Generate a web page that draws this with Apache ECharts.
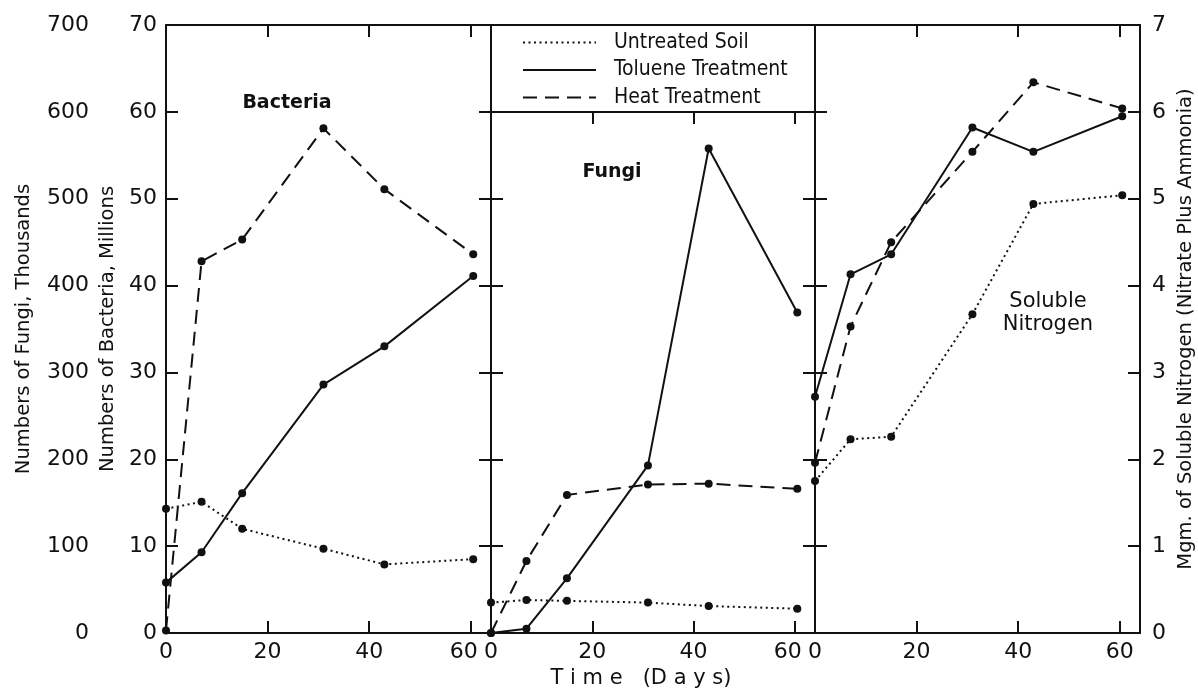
<!DOCTYPE html>
<html>
<head>
<meta charset="utf-8">
<script src="https://cdn.jsdelivr.net/npm/echarts@6/dist/echarts.min.js"></script>
<style>
  html, body { margin: 0; padding: 0; background: #fff; }
  #chart { width: 1198px; height: 689px; }
</style>
</head>
<body>
<div id="chart"></div>
<script>
// days of sampling (x)
var days = [0, 7, 15, 31, 43, 60.5];

// bacteria, millions
var bacteriaUntreated = [14.3, 15.1, 12.0, 9.7, 7.9, 8.5];
var bacteriaToluene   = [5.8, 9.3, 16.1, 28.6, 33.0, 41.1];
var bacteriaHeat      = [0.3, 42.8, 45.3, 58.1, 51.1, 43.6];

// fungi, thousands
var fungiUntreated = [35, 38, 37, 35, 31, 28];
var fungiToluene   = [0, 5, 63, 193, 558, 369];
var fungiHeat      = [0, 83, 159, 171, 172, 166];

// soluble nitrogen, mgm.
var nitrogenUntreated = [1.75, 2.23, 2.26, 3.67, 4.94, 5.04];
var nitrogenToluene   = [2.72, 4.13, 4.36, 5.82, 5.54, 5.95];
var nitrogenHeat      = [1.96, 3.53, 4.50, 5.54, 6.34, 6.04];

var treatments = ['Untreated Soil', 'Toluene Treatment', 'Heat Treatment'];
var dashes = [[2, 3.5], 'solid', [14, 8]];

var FONT = 'DejaVu Sans';
var black = '#111';

function pairs(vals) {
  return vals.map(function (v, i) { return [days[i], v]; });
}

// "60" of the first two panels sits a bit left so it doesn't touch the next "0"
function shiftedSixty(v) { return v === 60 ? '60  ' : String(v); }

// x axes: bottom with labels, top with ticks only
function xAx(grid, pos, labels, extra) {
  var a = {
    type: 'value', gridIndex: grid, position: pos, min: 0, max: 64, interval: 20,
    axisLine: { show: true, onZero: false, lineStyle: { color: black, width: 2 } },
    axisTick: { show: true, inside: true, length: 12, lineStyle: { color: black, width: 2 } },
    axisLabel: { show: labels, showMaxLabel: false, margin: 8, color: black, fontFamily: FONT, fontSize: 22,
                 formatter: grid < 2 ? shiftedSixty : null },
    splitLine: { show: false }
  };
  return Object.assign(a, extra || {});
}

function yAx(grid, pos, max, interval, labels, extra) {
  var a = {
    type: 'value', gridIndex: grid, position: pos, min: 0, max: max, interval: interval,
    axisLine: { show: true, onZero: false, lineStyle: { color: black, width: 2 } },
    axisTick: { show: true, inside: true, length: 12, lineStyle: { color: black, width: 2 } },
    axisLabel: { show: labels, margin: 9, color: black, fontFamily: FONT, fontSize: 22 },
    splitLine: { show: false },
    nameTextStyle: { color: black, fontFamily: FONT, fontSize: 19.5 }
  };
  return Object.assign(a, extra || {});
}

var series = [];
function addPanel(xi, yi, sets) {
  sets.forEach(function (vals, k) {
    series.push({
      name: treatments[k], type: 'line', xAxisIndex: xi, yAxisIndex: yi,
      data: pairs(vals), symbol: 'circle', symbolSize: 8,
      itemStyle: { color: black },
      lineStyle: { color: black, width: 2, type: dashes[k] }
    });
  });
}
addPanel(0, 0, [bacteriaUntreated, bacteriaToluene, bacteriaHeat]);
addPanel(2, 3, [fungiUntreated, fungiToluene, fungiHeat]);
addPanel(4, 6, [nitrogenUntreated, nitrogenToluene, nitrogenHeat]);

var chart = echarts.init(document.getElementById('chart'));
chart.setOption({
  animation: false,
  backgroundColor: '#fff',
  grid: [
    { left: 166, top: 25, width: 325, height: 608, outerBoundsMode: 'none' },
    { left: 491, top: 112, width: 324, height: 521, outerBoundsMode: 'none' },
    { left: 815, top: 25, width: 325, height: 608, outerBoundsMode: 'none' },
    // legend box
    { left: 491, top: 25, width: 324, height: 87, outerBoundsMode: 'none', show: true, borderColor: black, borderWidth: 2, backgroundColor: 'transparent' }
  ],
  xAxis: [
    xAx(0, 'bottom', true),
    xAx(0, 'top', false),
    xAx(1, 'bottom', true, {
      name: 'T i m e   (D a y s)', nameLocation: 'middle', nameGap: 35,
      nameTextStyle: { color: black, fontFamily: FONT, fontSize: 21, padding: [0, 24, 0, 0] }
    }),
    xAx(1, 'top', false),
    xAx(2, 'bottom', true),
    xAx(2, 'top', false),
    { type: 'value', gridIndex: 3, show: false }
  ],
  yAxis: [
    yAx(0, 'left', 70, 10, true, {
      name: 'Numbers of Bacteria, Millions', nameLocation: 'middle', nameGap: 48
    }),
    yAx(0, 'left', 700, 100, true, {
      offset: 68, axisLine: { show: false }, axisTick: { show: false },
      name: 'Numbers of Fungi, Thousands', nameLocation: 'middle', nameGap: 64
    }),
    yAx(0, 'right', 70, 10, false),
    yAx(1, 'left', 600, 100, false),
    yAx(1, 'right', 600, 100, false),
    yAx(2, 'left', 7, 1, false),
    yAx(2, 'right', 7, 1, true, {
      axisLabel: { show: true, margin: 12, color: black, fontFamily: FONT, fontSize: 22 },
      name: 'Mgm. of Soluble Nitrogen (Nitrate Plus Ammonia)', nameLocation: 'middle',
      nameGap: 36, nameRotate: 90
    }),
    { type: 'value', gridIndex: 3, show: false }
  ],
  legend: {
    data: treatments, orient: 'vertical', left: 522, top: 32, padding: 0,
    itemWidth: 73, itemHeight: 20, itemGap: 6.5, selectedMode: false,
    itemStyle: { opacity: 0 },
    textStyle: { color: black, fontFamily: 'Liberation Sans Narrow, DejaVu Sans Condensed', fontSize: 21, padding: [0, 0, 0, 13] }
  },
  graphic: [
    { type: 'text', x: 287, y: 103, style: { text: 'Bacteria', fill: black, font: 'bold 19px DejaVu Sans', textAlign: 'center', textVerticalAlign: 'middle' } },
    { type: 'text', x: 612, y: 172, style: { text: 'Fungi', fill: black, font: 'bold 19px DejaVu Sans', textAlign: 'center', textVerticalAlign: 'middle' } },
    { type: 'text', x: 1048, y: 313, style: { text: 'Soluble\nNitrogen', fill: black, font: '21px DejaVu Sans', lineHeight: 23, textAlign: 'center', textVerticalAlign: 'middle' } }
  ],
  series: series
});
</script>
</body>
</html>
